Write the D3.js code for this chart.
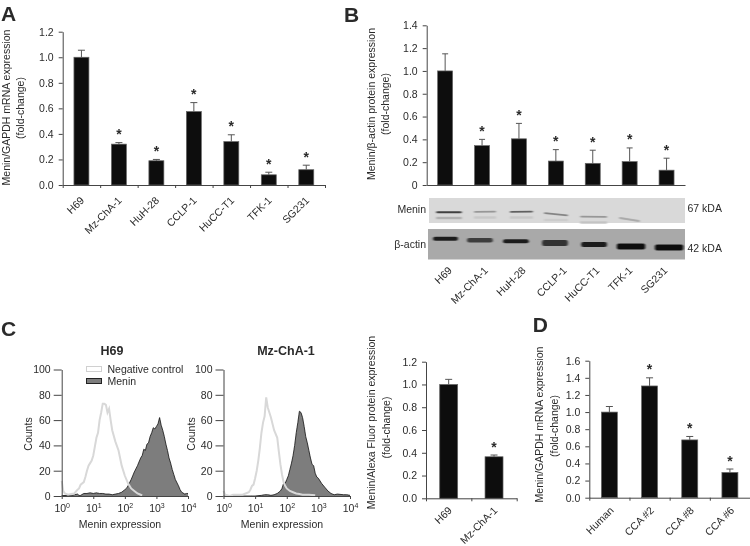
<!DOCTYPE html>
<html>
<head>
<meta charset="utf-8">
<style>
html,body{margin:0;padding:0;background:#fff;}
svg{display:block;font-family:"Liberation Sans",Arial,sans-serif;}
text{fill:#2b2b2b;}
.domain,.tick line{stroke:#444;stroke-width:1;}
</style>
<script src="https://cdn.jsdelivr.net/npm/d3@7"></script>
</head>
<body>
<svg id="fig" width="750" height="546"></svg>
<script>
// ---------- Panel A ----------
const cellLines = ["H69","Mz-ChA-1","HuH-28","CCLP-1","HuCC-T1","TFK-1","SG231"];
const aValues = [1.0,0.32,0.19,0.575,0.34,0.08,0.12];
const aErrors = [0.055,0.012,0.01,0.07,0.053,0.02,0.035];
const aStars  = [false,true,true,true,true,true,true];
const aTicks  = [0,0.2,0.4,0.6,0.8,1.0,1.2];
// ---------- Panel B ----------
const bValues = [1.0,0.345,0.405,0.21,0.19,0.205,0.13];
const bErrors = [0.15,0.055,0.135,0.10,0.115,0.12,0.105];
const bStars  = [false,true,true,true,true,true,true];
const bTicks  = [0,0.2,0.4,0.6,0.8,1.0,1.2,1.4];
// Western blot readings: lane centre and band length as % of strip width,
// migration as % of strip height, band density 0-1, smile in degrees
const meninLane  = [7.8,21.9,36.1,49.6,64.3,78.3];
const meninLen   = [10,8.6,9,9.4,10.5,8.2];
const meninMig   = [57,55,55,65,75,86];
const meninDens  = [0.75,0.3,0.58,0.4,0.3,0.2];
const meninTilt  = [0,-1,-1,6,1,9];
const meninFaint = [0.16,0.04,0.04,0.02,0.07,0];
const actinLane  = [6.8,20.2,34.2,49.4,64.6,79,93.8];
const actinLen   = [9.7,10,10,10,10,11,11];
const actinMig   = [32,37,40,46,51,57,61];
const actinThick = [4,4.5,4,6,5,6,6];
const actinDens  = [0.88,0.62,0.88,0.72,0.9,1,1];
// ---------- Panel C: flow cytometry histograms [log10 intensity, counts] ----------
const h69Menin = [[0,0.3],[0.2,0.5],[0.3,0.2],[0.4,1],[0.5,1.5],[0.55,0.4],[0.6,0.5],[0.7,2],[0.8,2],[0.9,2.5],[1,2],[1.1,2.5],[1.2,2],[1.3,2],[1.4,1.5],[1.5,1.5],[1.6,1],[1.7,1.5],[1.8,2],[1.9,3],[2,5],[2.05,6],[2.1,8],[2.2,13],[2.3,19],[2.4,24],[2.5,30],[2.55,32],[2.6,37],[2.65,36],[2.7,41],[2.75,42],[2.8,47],[2.85,50],[2.9,54],[2.95,53],[3,55],[3.05,57],[3.1,62],[3.15,56],[3.2,52],[3.25,47],[3.3,41],[3.35,36],[3.4,30],[3.45,26],[3.5,21],[3.55,17],[3.6,13],[3.7,8],[3.75,5],[3.8,3],[3.9,1.5],[3.95,2],[4,2]];
const h69Neg = [[0,12],[0.05,4],[0.1,2],[0.2,1],[0.3,1.5],[0.4,2],[0.5,5],[0.55,6],[0.6,9],[0.7,11],[0.75,15],[0.8,20],[0.85,24],[0.9,26],[0.95,28],[1,32],[1.05,39],[1.1,46],[1.15,50],[1.2,60],[1.25,66],[1.3,73],[1.35,73],[1.4,72],[1.45,66],[1.5,69],[1.55,60],[1.6,52],[1.7,43],[1.8,36],[1.9,24],[2,16],[2.1,10],[2.2,6],[2.3,4],[2.4,2],[2.5,1],[2.55,0.5]];
const mzMenin = [[0,0],[0.9,0],[1,0],[1.2,0.5],[1.3,1],[1.4,1],[1.5,0.5],[1.6,1],[1.7,2],[1.8,4],[1.85,6],[1.9,10],[1.95,10],[2,13],[2.05,16],[2.1,21],[2.15,26],[2.2,32],[2.25,40],[2.3,50],[2.35,58],[2.4,67],[2.45,66],[2.5,62],[2.55,55],[2.6,47],[2.65,42],[2.7,36],[2.75,30],[2.8,25],[2.85,24],[2.9,18],[2.95,15],[3,14],[3.1,10],[3.2,7],[3.3,4],[3.4,2],[3.5,1],[3.6,1.5],[3.8,1],[3.9,1],[4,0.5]];
const mzNeg = [[0,4],[0.05,1],[0.2,0],[0.3,1],[0.4,1],[0.5,1],[0.6,1],[0.7,2],[0.8,3],[0.85,5],[0.9,8],[0.95,9],[1,14],[1.05,20],[1.1,28],[1.15,38],[1.2,50],[1.25,58],[1.3,63],[1.35,78],[1.4,70],[1.45,66],[1.5,62],[1.6,52],[1.7,46],[1.75,35],[1.8,25],[1.85,17],[1.9,11],[1.95,8],[2,6],[2.1,4],[2.2,3],[2.3,2],[2.4,1.5],[2.5,1],[2.7,1],[2.9,0.5]];
const countTicks = [0,20,40,60,80,100];
const logTicks = [0,1,2,3,4];
// ---------- Panel C right ----------
const cLines = ["H69","Mz-ChA-1"];
const cValues = [1.0,0.365];
const cErrors = [0.045,0.015];
const cStars = [false,true];
const cTicks = [0,0.2,0.4,0.6,0.8,1.0,1.2];
// ---------- Panel D ----------
const dLines = ["Human","CCA #2","CCA #8","CCA #6"];
const dValues = [1.0,1.305,0.675,0.295];
const dErrors = [0.065,0.095,0.04,0.04];
const dStars = [false,true,true,true];
const dTicks = [0,0.2,0.4,0.6,0.8,1.0,1.2,1.4,1.6];

const svg = d3.select("#fig");
const defs = svg.append("defs");
const soft = (id,s)=>defs.append("filter").attr("id",id)
  .attr("x","-20%").attr("y","-100%").attr("width","140%").attr("height","300%")
  .append("feGaussianBlur").attr("stdDeviation",s);
soft("page",0.4); soft("band","1.1 0.55");
const root = svg.append("g").attr("filter","url(#page)");
const FS = 10.5;

function yTitle(lines){
  lines.forEach(l=>{
    root.append("text").attr("transform",`translate(${l.x},${l.y}) rotate(-90)`)
      .attr("text-anchor","middle").attr("dominant-baseline","middle")
      .attr("font-size",FS).text(l.t);
  });
}

function barPanel(o){
  const x = d3.scaleBand().domain(o.cats).range([o.left,o.right]);
  const y = d3.scaleLinear().domain(o.domain).range([o.bottom,o.top]);
  const g = root.append("g");
  const yAxis = d3.axisLeft(y).tickValues(o.ticks).tickSize(4).tickPadding(5).tickSizeOuter(0)
    .tickFormat(o.fmt||d3.format(".1f"));
  const ya = g.append("g").attr("transform",`translate(${o.left},0)`).call(yAxis);
  ya.selectAll("text").attr("font-size",FS);
  const bars = g.append("g");
  const idx = o.cats.map((c,i)=>i);
  const cx = i=>x(o.cats[i])+x.bandwidth()/2;
  bars.selectAll("line.e").data(idx).join("line").attr("class","e")
    .attr("x1",cx).attr("x2",cx)
    .attr("y1",i=>y(o.values[i])).attr("y2",i=>y(o.values[i]+o.errors[i]))
    .attr("stroke","#555").attr("stroke-width",1);
  bars.selectAll("line.c").data(idx).join("line").attr("class","c")
    .attr("x1",i=>cx(i)-o.cap).attr("x2",i=>cx(i)+o.cap)
    .attr("y1",i=>y(o.values[i]+o.errors[i])).attr("y2",i=>y(o.values[i]+o.errors[i]))
    .attr("stroke","#555").attr("stroke-width",1);
  bars.selectAll("rect").data(idx).join("rect")
    .attr("x",i=>cx(i)-o.barW/2).attr("width",o.barW)
    .attr("y",i=>y(o.values[i])).attr("height",i=>y(0)-y(o.values[i]))
    .attr("fill","#111").attr("stroke","#666").attr("stroke-width",0.7);
  const xEdge = d3.scaleLinear().domain([0,o.cats.length]).range([o.left,o.right]);
  const xAxis = d3.axisBottom(xEdge).tickValues(o.xTicks?d3.range(o.cats.length+1):[]).tickSize(o.xTicks?3:0).tickSizeOuter(0).tickFormat("");
  g.append("g").attr("transform",`translate(0,${o.bottom})`).call(xAxis);
  g.selectAll("text.star").data(idx.filter(i=>o.stars[i])).join("text").attr("class","star")
    .attr("x",cx)
    .attr("y",i=>y(o.values[i]+o.errors[i])-o.starGap)
    .attr("text-anchor","middle").attr("font-size",14).attr("font-weight","bold").attr("fill","#111").text("*");
  g.selectAll("text.cat").data(idx).join("text").attr("class","cat")
    .attr("transform",i=>`translate(${cx(i)+(o.labNudge?o.labNudge[i]:o.labDx)},${o.labY}) rotate(-45)`)
    .attr("text-anchor","end").attr("font-size",FS).text(i=>o.cats[i]);
}

barPanel({cats:cellLines,values:aValues,errors:aErrors,stars:aStars,ticks:aTicks,domain:[0,1.2],
  left:62.7,right:325,top:31.7,bottom:185,barW:15,cap:3.5,xTicks:true,starGap:3.5,labDx:3.5,labY:201});
yTitle([{x:7.5,y:107.5,t:"Menin/GAPDH mRNA expression"},{x:21.5,y:108,t:"(fold-change)"}]);

const bLabelNudge = [7.5,6.5,7.5,11.5,7.5,3.5,1.5];
barPanel({cats:cellLines,values:bValues,errors:bErrors,stars:bStars,ticks:bTicks,domain:[0,1.4],
  left:426.7,right:685,top:25.3,bottom:185,barW:15,cap:3,xTicks:false,starGap:3.5,labNudge:bLabelNudge,labY:271,
  fmt:d=>d===0?"0":d3.format(".1f")(d)});
yTitle([{x:372,y:104,t:"Menin/β-actin protein expression"},{x:386.5,y:104,t:"(fold-change)"}]);

// Western blot strips
function strip(o){
  const sx = d3.scaleLinear().domain([0,100]).range([o.x0,o.x1]);
  const sy = d3.scaleLinear().domain([0,100]).range([o.y0,o.y1]);
  root.append("rect").attr("x",sx(0)).attr("y",sy(0)).attr("width",sx(100)-sx(0)).attr("height",sy(100)-sy(0)).attr("fill",o.bg);
  return {sx,sy};
}
const mS = strip({x0:429,x1:685,y0:198,y1:223,bg:"#d9d9d9"});
const shade = d3.scaleLinear().domain([0,1]).range(["#d0d0d0","#111111"]);
const mG = root.append("g").attr("filter","url(#band)");
meninLane.forEach((c,i)=>{
  const cx = mS.sx(c), cy = mS.sy(meninMig[i]), w = mS.sx(meninLen[i])-mS.sx(0);
  mG.append("rect").attr("x",cx-w/2).attr("y",cy-0.9).attr("width",w).attr("height",1.8).attr("rx",0.9)
    .attr("transform",`rotate(${meninTilt[i]},${cx},${cy})`)
    .attr("fill",shade(meninDens[i]));
  if(meninFaint[i]>0) mG.append("rect").attr("x",cx-w/2).attr("y",mS.sy(meninMig[i]+23)-1.2).attr("width",w).attr("height",2.4)
    .attr("fill",shade(meninFaint[i]));
});
const aS = strip({x0:428,x1:685,y0:229,y1:259.5,bg:"#a9a9a9"});
const aShade = d3.scaleLinear().domain([0,1]).range(["#8a8a8a","#101010"]);
const aG = root.append("g").attr("filter","url(#band)");
actinLane.forEach((c,i)=>{
  const w = aS.sx(actinLen[i])-aS.sx(0), cx = aS.sx(c), cy = aS.sy(actinMig[i]);
  aG.append("rect").attr("x",cx-w/2).attr("y",cy-actinThick[i]/2).attr("width",w).attr("height",actinThick[i]).attr("rx",2)
    .attr("fill",aShade(actinDens[i]));
});
const blotLabels = [["Menin",426,212.5,"end"],["β-actin",426,248,"end"],["67 kDA",687.5,211.5,"start"],["42 kDA",687.5,251.5,"start"]];
root.selectAll("text.blot").data(blotLabels).join("text").attr("class","blot")
  .attr("x",d=>d[1]).attr("y",d=>d[2]).attr("text-anchor",d=>d[3]).attr("font-size",FS).text(d=>d[0]);

// Histograms
function histo(o){
  const x = d3.scaleLinear().domain([0,4]).range([o.left,o.right]);
  const y = d3.scaleLinear().domain([0,100]).range([496,369.5]);
  const g = root.append("g");
  const line = d3.line().x(d=>x(d[0])).y(d=>y(d[1]));
  const area = d3.area().x(d=>x(d[0])).y0(y(0)).y1(d=>y(d[1]));
  g.append("path").datum(o.menin).attr("d",area).attr("fill","#7d7d7d");
  g.append("path").datum(o.menin).attr("d",line).attr("fill","none").attr("stroke","#111").attr("stroke-width",0.8);
  g.append("path").datum(o.neg).attr("d",line).attr("fill","none").attr("stroke","#d8d8d8").attr("stroke-width",2);
  const yAxis = d3.axisLeft(y).tickValues(countTicks).tickSize(8).tickPadding(3).tickSizeOuter(0);
  const ya = g.append("g").attr("transform",`translate(${o.left},0)`).call(yAxis);
  ya.selectAll("text").attr("font-size",FS);
  const xAxis = d3.axisBottom(x).tickValues(logTicks).tickSize(3).tickPadding(3).tickSizeOuter(0).tickFormat("");
  const xg = g.append("g").attr("transform","translate(0,496)").call(xAxis);
  xg.selectAll(".tick").append("text").attr("y",15.5).attr("text-anchor","middle").attr("font-size",FS).attr("fill","#2b2b2b")
    .each(function(d){
      const t=d3.select(this);
      t.append("tspan").text("10");
      t.append("tspan").attr("dy",-4).attr("font-size",7).text(d);
    });
  g.append("text").attr("x",o.titleX).attr("y",355).attr("text-anchor","middle").attr("font-size",12.5).attr("font-weight","bold").text(o.title);
  g.append("text").attr("x",o.labelX).attr("y",528).attr("text-anchor","middle").attr("font-size",FS).text("Menin expression");
  g.append("text").attr("transform",`translate(${o.countX},434) rotate(-90)`).attr("text-anchor","middle").attr("dominant-baseline","middle").attr("font-size",FS).text("Counts");
}
histo({left:61.7,right:188,menin:h69Menin,neg:h69Neg,title:"H69",titleX:112,labelX:120,countX:29.5});
histo({left:223.5,right:350,menin:mzMenin,neg:mzNeg,title:"Mz-ChA-1",titleX:286,labelX:282,countX:192});

// Legend
const legend = [["Negative control","#fff","#d0d0d0",369],["Menin","#7d7d7d","#222",381]];
const lg = root.append("g");
lg.selectAll("rect").data(legend).join("rect").attr("x",86.5).attr("width",15).attr("y",d=>d[3]-2.5).attr("height",5)
  .attr("fill",d=>d[1]).attr("stroke",d=>d[2]).attr("stroke-width",1);
lg.selectAll("text").data(legend).join("text").attr("x",107.5).attr("y",d=>d[3]+3.5).attr("font-size",FS).text(d=>d[0]);

barPanel({cats:cLines,values:cValues,errors:cErrors,stars:cStars,ticks:cTicks,domain:[0,1.2],
  left:426,right:516.7,top:361.7,bottom:498.3,barW:18,cap:3.5,xTicks:true,starGap:3.5,labDx:4,labY:511});
yTitle([{x:372.5,y:422.5,t:"Menin/Alexa Fluor protein expression"},{x:387.5,y:427.5,t:"(fold-change)"}]);

barPanel({cats:dLines,values:dValues,errors:dErrors,stars:dStars,ticks:dTicks,domain:[0,1.6],
  left:589.3,right:750,top:360.7,bottom:497.7,barW:16,cap:3.5,xTicks:true,starGap:3.5,labDx:5,labY:511});
yTitle([{x:540,y:424.5,t:"Menin/GAPDH mRNA expression"},{x:555,y:426,t:"(fold-change)"}]);

// Panel letters
const letters = [["A",1,20.7],["B",344,21.7],["C",1,336],["D",532.7,331.7]];
root.selectAll("text.letter").data(letters).join("text").attr("class","letter")
  .attr("x",d=>d[1]).attr("y",d=>d[2]).attr("font-size",21).attr("font-weight","bold").attr("fill","#111").text(d=>d[0]);
</script>
</body>
</html>
